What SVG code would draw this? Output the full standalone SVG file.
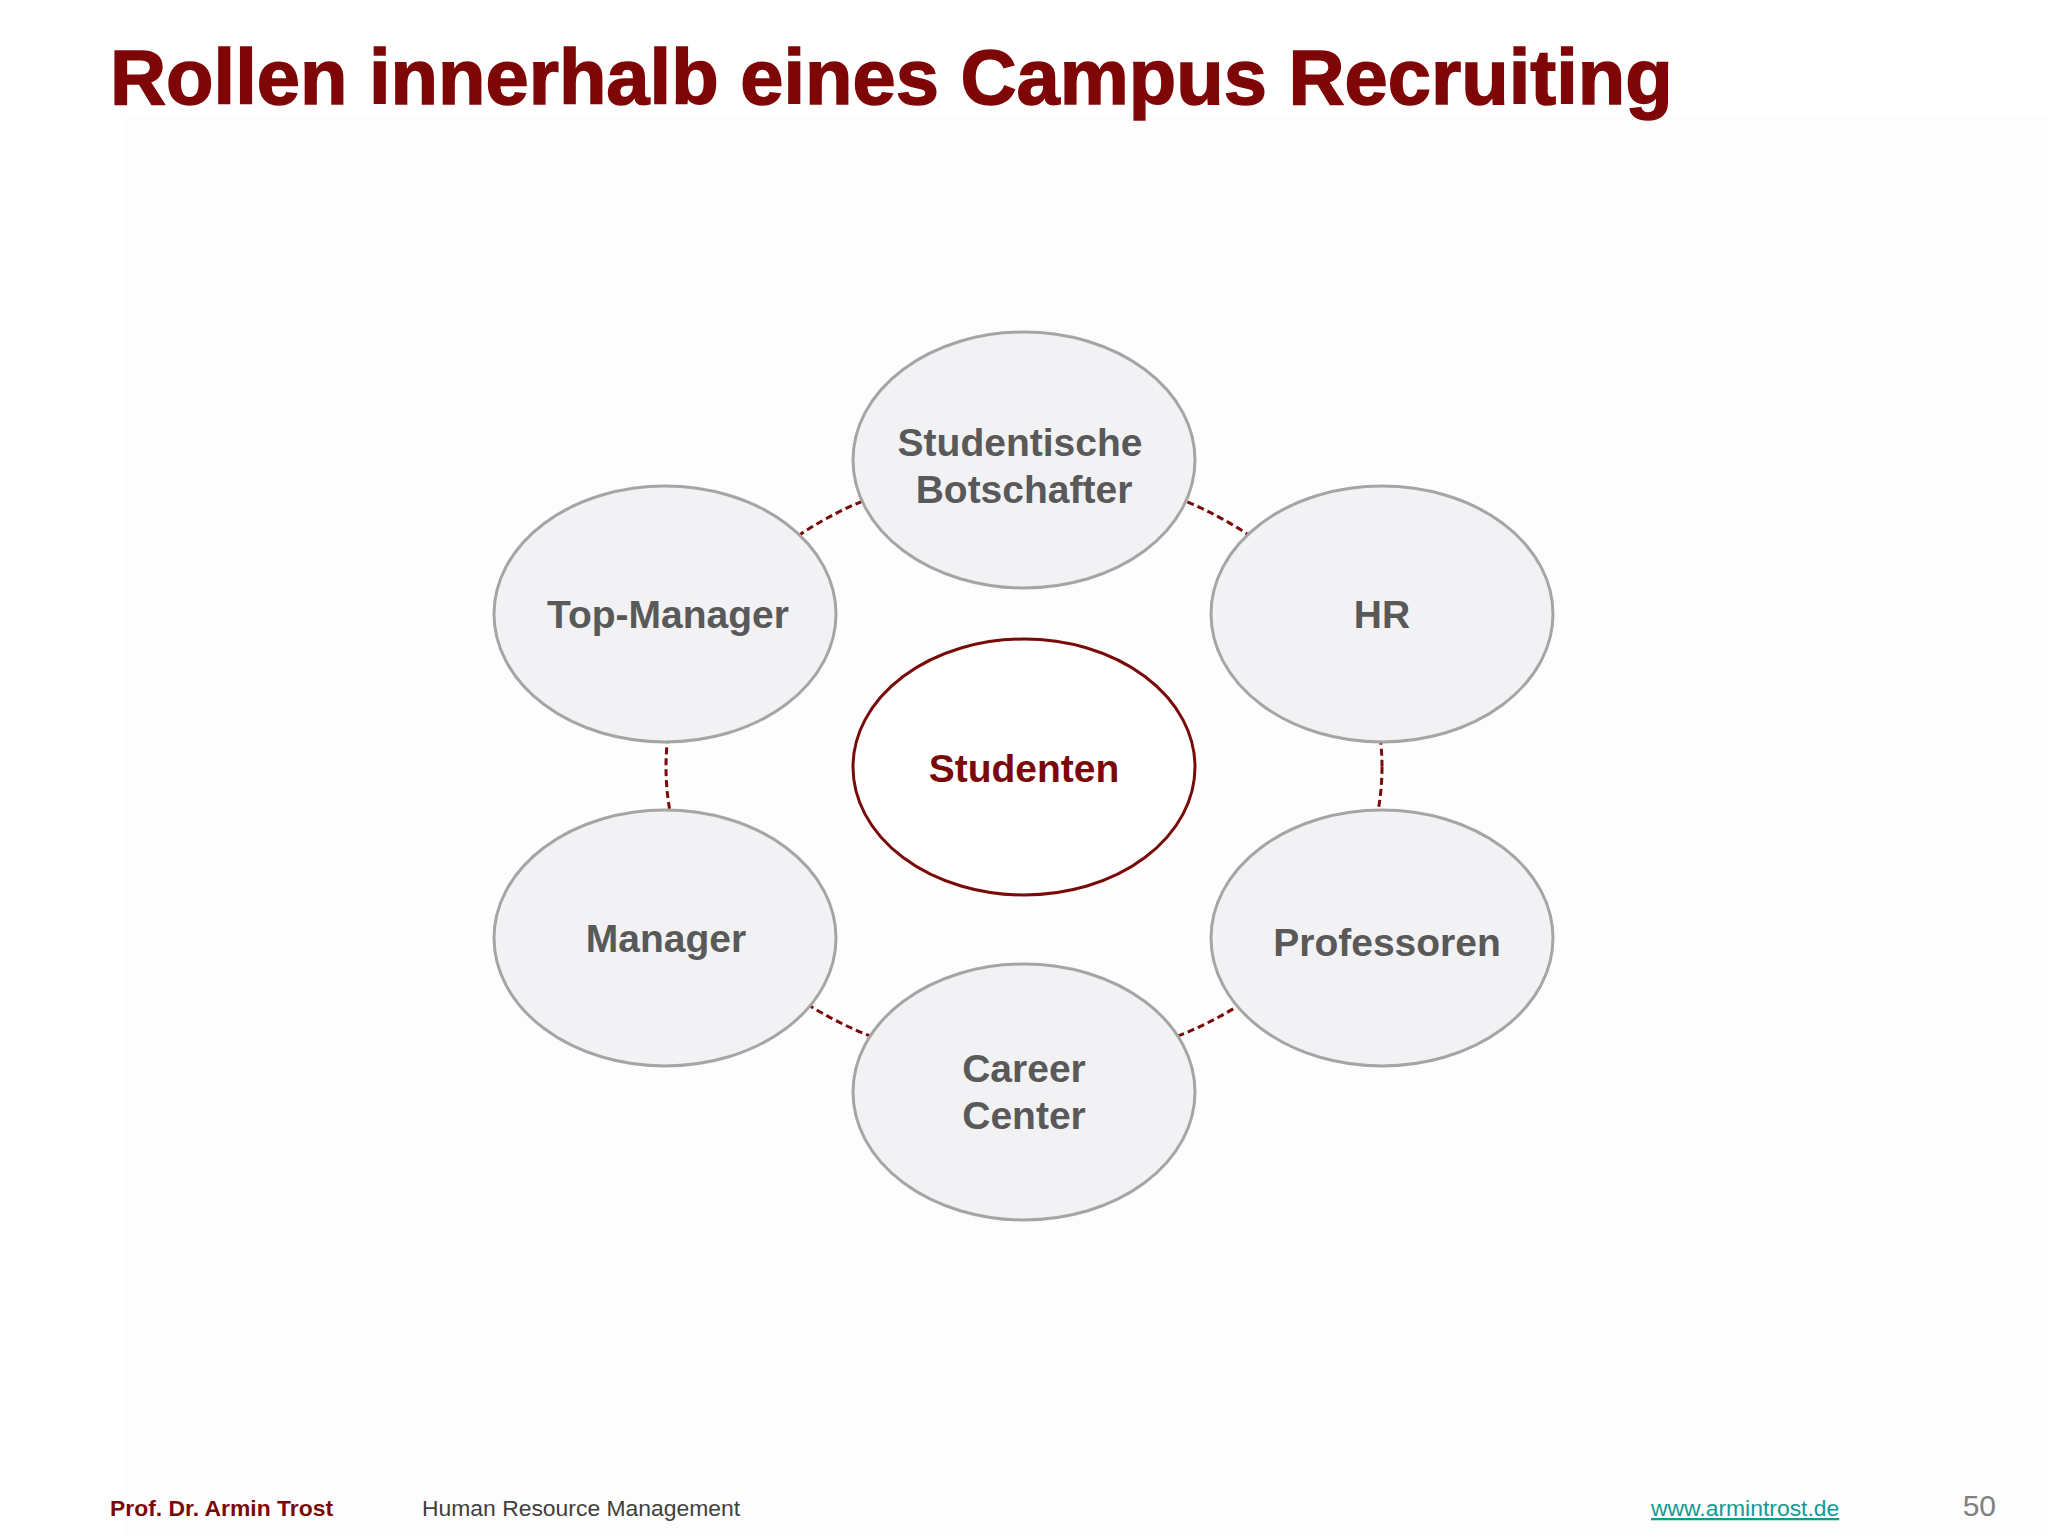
<svg xmlns="http://www.w3.org/2000/svg" width="2048" height="1536" viewBox="0 0 2048 1536">
  <style>
    .title { font-family: "Liberation Sans", Arial, sans-serif; font-weight: bold; font-size: 77.7px; fill: #7f0606; stroke: #7f0606; stroke-width: 1.5px; }
    .node { fill: #f2f1f3; stroke: #a5a5a5; stroke-width: 3; }
    .center { fill: #ffffff; stroke: #7a0a0a; stroke-width: 3; }
    .lbl { font-family: "Liberation Sans", Arial, sans-serif; font-weight: bold; font-size: 39px; fill: #595959; text-anchor: middle; }
    .lblc { font-family: "Liberation Sans", Arial, sans-serif; font-weight: bold; font-size: 39px; fill: #7a0a0a; text-anchor: middle; }
    .ring { fill: none; stroke: #7a0a0a; stroke-width: 3; stroke-dasharray: 7 4; }
    .foot { font-family: "Liberation Sans", Arial, sans-serif; font-size: 22.9px; }
  </style>
  <rect x="0" y="0" width="2048" height="1536" fill="#ffffff"/>
  <rect x="125" y="115" width="1923" height="1421" fill="#fdfdfd"/>

  <text class="title" x="110" y="104">Rollen innerhalb eines Campus Recruiting</text>

  <g id="connectors">
    <ellipse class="ring" cx="1024" cy="767" rx="358" ry="298"/>
  </g>

  <g id="node-studenten">
    <ellipse class="center" cx="1024" cy="767" rx="171" ry="128"/>
    <text class="lblc" x="1024" y="782">Studenten</text>
  </g>
  <g id="node-studentische-botschafter">
    <ellipse class="node" cx="1024" cy="460" rx="171" ry="128"/>
    <text class="lbl" x="1020" y="456">Studentische</text>
    <text class="lbl" x="1024" y="503">Botschafter</text>
  </g>
  <g id="node-top-manager">
    <ellipse class="node" cx="665" cy="614" rx="171" ry="128"/>
    <text class="lbl" x="668" y="628">Top-Manager</text>
  </g>
  <g id="node-hr">
    <ellipse class="node" cx="1382" cy="614" rx="171" ry="128"/>
    <text class="lbl" x="1382" y="628">HR</text>
  </g>
  <g id="node-manager">
    <ellipse class="node" cx="665" cy="938" rx="171" ry="128"/>
    <text class="lbl" x="666" y="952">Manager</text>
  </g>
  <g id="node-professoren">
    <ellipse class="node" cx="1382" cy="938" rx="171" ry="128"/>
    <text class="lbl" x="1387" y="956">Professoren</text>
  </g>
  <g id="node-career-center">
    <ellipse class="node" cx="1024" cy="1092" rx="171" ry="128"/>
    <text class="lbl" x="1024" y="1082">Career</text>
    <text class="lbl" x="1024" y="1129">Center</text>
  </g>

  <g id="footer">
    <text class="foot" x="110" y="1516" font-weight="bold" fill="#7a0a0a">Prof. Dr. Armin Trost</text>
    <text class="foot" x="422" y="1516" fill="#404040">Human Resource Management</text>
    <text class="foot" x="1651" y="1516" fill="#139a92" text-decoration="underline">www.armintrost.de</text>
    <text x="1996" y="1516" font-family="Liberation Sans, Arial, sans-serif" font-size="30" fill="#808080" text-anchor="end">50</text>
  </g>
</svg>
